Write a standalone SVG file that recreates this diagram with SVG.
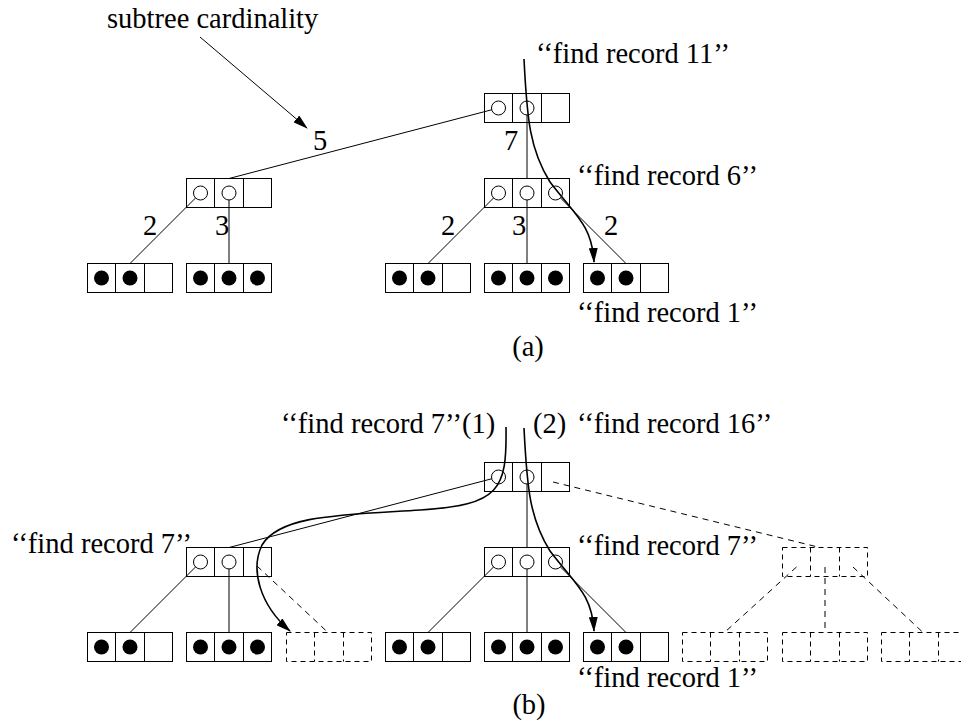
<svg xmlns="http://www.w3.org/2000/svg" xmlns:xlink="http://www.w3.org/1999/xlink" width="961" height="723" viewBox="0 0 961 723">
<style>
.box{fill:none;stroke:#000;stroke-width:1}
.dbox{fill:none;stroke:#000;stroke-width:1;stroke-dasharray:5,4}
.oc{fill:#fff;stroke:#000;stroke-width:1}
.fc{fill:#000}
.ln{stroke:#000;stroke-width:1;fill:none}
.dl{stroke:#000;stroke-width:1;stroke-dasharray:6,5;fill:none}
.pth{stroke:#000;stroke-width:1.6;fill:none;marker-end:url(#ah)}
.t{font-family:"Liberation Serif","Times New Roman",serif;font-size:28.5px;fill:#000}
.mid{text-anchor:middle}
</style>
<defs>
<marker id="ah" markerUnits="userSpaceOnUse" markerWidth="15" markerHeight="9" viewBox="0 0 15 9" refX="14" refY="4.5" orient="auto">
<path d="M0,0 L15,4.5 L0,9 z" fill="#000"/>
</marker>
<g id="box3"><rect class="box" x="0" y="0" width="85" height="29"/><path class="box" d="M28,0V29M57,0V29"/></g>
<g id="dbox3"><rect class="dbox" x="0" y="0" width="85" height="29"/><path class="dbox" d="M28,0V29M57,0V29"/></g>
<g id="open3"><use xlink:href="#box3"/><circle class="oc" cx="14" cy="14.5" r="7"/><circle class="oc" cx="42.5" cy="14.5" r="7"/><circle class="oc" cx="71" cy="14.5" r="7"/></g>
<g id="open2"><use xlink:href="#box3"/><circle class="oc" cx="14" cy="14.5" r="7"/><circle class="oc" cx="42.5" cy="14.5" r="7"/></g>
<g id="full2"><use xlink:href="#box3"/><circle class="fc" cx="14" cy="14.5" r="7.5"/><circle class="fc" cx="42.5" cy="14.5" r="7.5"/></g>
<g id="full3"><use xlink:href="#box3"/><circle class="fc" cx="14" cy="14.5" r="7.5"/><circle class="fc" cx="42.5" cy="14.5" r="7.5"/><circle class="fc" cx="71" cy="14.5" r="7.5"/></g>
</defs>
<rect x="0" y="0" width="961" height="723" fill="#fff"/>

<g id="connectors">
<line class="ln" x1="200" y1="37" x2="307" y2="128" marker-end="url(#ah)"/>
<line class="ln" x1="498.5" y1="108" x2="229" y2="178.5"/>
<line class="ln" x1="527" y1="108" x2="527" y2="178.5"/>
<line class="ln" x1="498.5" y1="193" x2="428" y2="263.5"/>
<line class="ln" x1="527" y1="193" x2="527" y2="263.5"/>
<line class="ln" x1="555.5" y1="193" x2="626" y2="263.5"/>
<line class="ln" x1="200.5" y1="193" x2="130" y2="263.5"/>
<line class="ln" x1="229" y1="193" x2="229" y2="263.5"/>
<line class="ln" x1="498.5" y1="477" x2="229" y2="547.5"/>
<line class="ln" x1="527" y1="477" x2="527" y2="547.5"/>
<line class="dl" x1="553" y1="482" x2="820" y2="547.5"/>
<line class="ln" x1="498.5" y1="562" x2="428" y2="632.5"/>
<line class="ln" x1="527" y1="562" x2="527" y2="632.5"/>
<line class="ln" x1="555.5" y1="562" x2="626" y2="632.5"/>
<line class="ln" x1="200.5" y1="562" x2="130" y2="632.5"/>
<line class="ln" x1="229" y1="562" x2="229" y2="632.5"/>
<line class="dl" x1="257" y1="566" x2="328" y2="632.5"/>
<line class="dl" x1="796.5" y1="567" x2="724.5" y2="632.5"/>
<line class="dl" x1="825" y1="567" x2="825" y2="632.5"/>
<line class="dl" x1="853" y1="567" x2="923" y2="632.5"/>
</g>

<g id="a-root" transform="translate(484.5,93.5)"><use xlink:href="#open2"/></g>
<g id="a-midL" transform="translate(186.5,178.5)"><use xlink:href="#open2"/></g>
<g id="a-midR" transform="translate(484.5,178.5)"><use xlink:href="#open3"/></g>
<g id="a-leaf1" transform="translate(87.5,263.5)"><use xlink:href="#full2"/></g>
<g id="a-leaf2" transform="translate(186.5,263.5)"><use xlink:href="#full3"/></g>
<g id="a-leaf3" transform="translate(385.5,263.5)"><use xlink:href="#full2"/></g>
<g id="a-leaf4" transform="translate(484.5,263.5)"><use xlink:href="#full3"/></g>
<g id="a-leaf5" transform="translate(583.5,263.5)"><use xlink:href="#full2"/></g>

<g id="b-root" transform="translate(484.5,462.5)"><use xlink:href="#open2"/></g>
<g id="b-midL" transform="translate(186.5,547.5)"><use xlink:href="#open2"/></g>
<g id="b-midR" transform="translate(484.5,547.5)"><use xlink:href="#open3"/></g>
<g id="b-midD" transform="translate(782.5,547.5)"><use xlink:href="#dbox3"/></g>
<g id="b-leaf1" transform="translate(87.5,632.5)"><use xlink:href="#full2"/></g>
<g id="b-leaf2" transform="translate(186.5,632.5)"><use xlink:href="#full3"/></g>
<g id="b-leafD1" transform="translate(286.5,632.5)"><use xlink:href="#dbox3"/></g>
<g id="b-leaf3" transform="translate(385.5,632.5)"><use xlink:href="#full2"/></g>
<g id="b-leaf4" transform="translate(484.5,632.5)"><use xlink:href="#full3"/></g>
<g id="b-leaf5" transform="translate(583.5,632.5)"><use xlink:href="#full2"/></g>
<g id="b-leafD2" transform="translate(682.5,632.5)"><use xlink:href="#dbox3"/></g>
<g id="b-leafD3" transform="translate(782.5,632.5)"><use xlink:href="#dbox3"/></g>
<g id="b-leafD4" transform="translate(881.5,632.5)"><use xlink:href="#dbox3"/></g>

<g id="search-paths">
<path class="pth" d="M524,59 C527,120 530,150 550,182 C575,215 592,225 594,262"/>
<path class="pth" d="M524,428 C527,489 530,519 550,551 C575,584 592,594 594,631"/>
<path class="pth" d="M506,427 C507,490 500,505 420,510 C340,515 280,515 262,545 C250,570 260,605 290,631"/>
</g>

<g id="labels" font-family="'Liberation Serif', 'Times New Roman', serif" font-size="28.5">
<text class="t" x="107" y="28" font-family="'Liberation Serif', 'Times New Roman', serif">subtree cardinality</text>
<text class="t" x="536" y="63">‘‘find record 11’’</text>
<text class="t mid" x="320" y="150">5</text>
<text class="t mid" x="511" y="150">7</text>
<text class="t" x="577" y="185">‘‘find record 6’’</text>
<text class="t mid" x="150" y="235">2</text>
<text class="t mid" x="222" y="235">3</text>
<text class="t mid" x="448" y="235">2</text>
<text class="t mid" x="519" y="235">3</text>
<text class="t mid" x="611" y="235">2</text>
<text class="t" x="577" y="322">‘‘find record 1’’</text>
<text class="t mid" x="528" y="356">(a)</text>
<text class="t" x="281" y="433">‘‘find record 7’’(1)</text>
<text class="t" x="533" y="433">(2)</text>
<text class="t" x="577" y="433">‘‘find record 16’’</text>
<text class="t" x="11" y="553">‘‘find record 7’’</text>
<text class="t" x="577" y="555">‘‘find record 7’’</text>
<text class="t" x="577" y="687">‘‘find record 1’’</text>
<text class="t mid" x="529" y="714">(b)</text>
</g>
</svg>
